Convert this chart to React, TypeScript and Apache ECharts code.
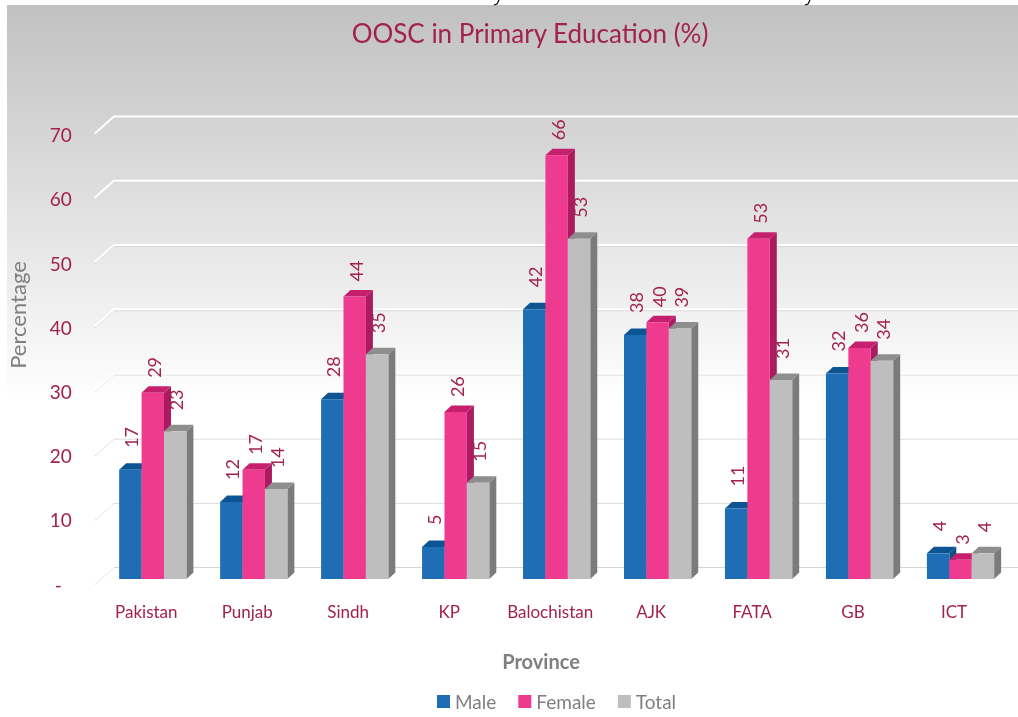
import React, { useEffect, useRef } from "react";
import * as echarts from "echarts";

const CATEGORIES = ["Pakistan", "Punjab", "Sindh", "KP", "Balochistan", "AJK", "FATA", "GB", "ICT"];
const MALE = [17, 12, 28, 5, 42, 38, 11, 32, 4];
const FEMALE = [29, 17, 44, 26, 66, 40, 53, 36, 3];
const TOTAL = [23, 14, 35, 15, 53, 39, 31, 34, 4];
const Y_TICKS = [0, 10, 20, 30, 40, 50, 60, 70];
const SERIES_NAMES = ["Male", "Female", "Total"];

const CRIMSON = "#a3214f";
const GRAY_TEXT = "#7f7f7f";
const FONT = "Lato, 'Open Sans', sans-serif";

const FACE = [
  { front: "#1f6db4", top: "#0c5592", side: "#0f4f86" },
  { front: "#ee3a8f", top: "#c51f6e", side: "#ab1b5f" },
  { front: "#bebebe", top: "#8e8e8e", side: "#7b7b7b" },
];
const LABEL_GAP = [22, 15, 21];

export default function App() {
  const ref = useRef<HTMLDivElement>(null);

  useEffect(() => {
    if (!ref.current) return;
    const chart = echarts.init(ref.current, null, { renderer: "svg" });

    const makeBarSeries = (s: number, values: number[]) => ({
      type: "custom",
      name: SERIES_NAMES[s],
      z: 3 + s,
      itemStyle: { color: FACE[s].front },
      data: values.map((v, i) => [i, v]),
      renderItem: (params: any, api: any) => {
        const idx = api.value(0);
        const v = api.value(1);
        const p = api.coord([idx, v]);
        const p0 = api.coord([idx, 0]);
        const band = api.size([1, 0])[0];
        const bw = band * 0.222;
        const dx = 7;
        const dy = 6.5;
        const x = p[0] + 6.5 - 1.5 * bw + s * bw;
        const y = p[1];
        const y0 = p0[1];
        return {
          type: "group",
          children: [
            {
              type: "polygon",
              shape: { points: [[x + bw, y], [x + bw + dx, y - dy], [x + bw + dx, y0 - dy], [x + bw, y0]] },
              style: { fill: FACE[s].side },
            },
            {
              type: "polygon",
              shape: { points: [[x, y], [x + dx, y - dy], [x + bw + dx, y - dy], [x + bw, y]] },
              style: { fill: FACE[s].top },
            },
            {
              type: "rect",
              shape: { x, y, width: bw, height: y0 - y },
              style: { fill: FACE[s].front },
            },
            {
              type: "text",
              x: x + bw / 2 + 1,
              y: y - LABEL_GAP[s],
              rotation: Math.PI / 2,
              style: {
                text: String(v),
                align: "left",
                verticalAlign: "middle",
                fill: CRIMSON,
                fontSize: 18,
                fontFamily: FONT,
              },
            },
          ],
        };
      },
    });

    const gridSeries = {
      type: "custom",
      name: "grid",
      z: 1,
      silent: true,
      data: Y_TICKS.map((v) => [0, v]),
      renderItem: (params: any, api: any) => {
        const v = api.value(1);
        const y = api.coord([0, v])[1];
        const cs = params.coordSys;
        const pts = [
          [cs.x - 1, y + 4],
          [cs.x + 18, y - 13],
          [1018, y - 13],
        ];
        const ptsShadow = pts.map((q) => [q[0], q[1] + 1.5]);
        return {
          type: "group",
          children: [
            { type: "polyline", shape: { points: ptsShadow }, style: { stroke: "#d6d6d6", lineWidth: 1, fill: "none" } },
            { type: "polyline", shape: { points: pts }, style: { stroke: "#ffffff", lineWidth: 2, fill: "none" } },
          ],
        };
      },
    };

    chart.setOption({
      animation: false,
      textStyle: { fontFamily: FONT },
      graphic: [
        {
          type: "rect",
          z: -10,
          shape: { x: 7, y: 5, width: 1011, height: 712 },
          style: {
            fill: new echarts.graphic.LinearGradient(0, 0, 0, 1, [
              { offset: 0, color: "#c1c1c1" },
              { offset: 0.56, color: "#ffffff" },
              { offset: 1, color: "#ffffff" },
            ]),
          },
        },
        {
          type: "polyline",
          shape: { points: [[499, 0], [497, 4], [494, 5]] },
          style: { stroke: "#000", lineWidth: 1.2, fill: "none" },
        },
        {
          type: "polyline",
          shape: { points: [[810, 0], [808, 4], [805, 5]] },
          style: { stroke: "#000", lineWidth: 1.2, fill: "none" },
        },
        {
          type: "text",
          x: 530,
          y: 33,
          style: { text: "OOSC in Primary Education (%)", align: "center", verticalAlign: "middle", fontSize: 26, fontFamily: FONT, fill: CRIMSON },
        },
        {
          type: "text",
          x: 17,
          y: 315,
          rotation: Math.PI / 2,
          style: { text: "Percentage", align: "center", verticalAlign: "middle", fontSize: 22, fontFamily: FONT, fill: GRAY_TEXT },
        },
        {
          type: "text",
          x: 541,
          y: 661,
          style: { text: "Province", align: "center", verticalAlign: "middle", fontSize: 20, fontWeight: "bold", fontFamily: FONT, fill: GRAY_TEXT },
        },
      ],
      legend: {
        bottom: 1,
        left: 432,
        icon: "rect",
        itemWidth: 13,
        itemHeight: 13,
        itemGap: 22,
        data: SERIES_NAMES,
        textStyle: { color: GRAY_TEXT, fontSize: 19, fontFamily: FONT },
      },
      grid: { left: 95.8, right: 13.5, top: 129.6, bottom: 138 },
      xAxis: {
        type: "category",
        data: CATEGORIES,
        axisLine: { show: false },
        axisTick: { show: false },
        splitLine: { show: false },
        axisLabel: { color: CRIMSON, fontSize: 17, fontFamily: FONT, margin: 24, interval: 0 },
      },
      yAxis: {
        type: "value",
        min: 0,
        max: 70,
        interval: 10,
        axisLine: { show: false },
        axisTick: { show: false },
        splitLine: { show: false },
        axisLabel: {
          color: CRIMSON,
          fontSize: 19,
          fontFamily: FONT,
          margin: 24,
          padding: [10, 0, 0, 0],
          formatter: (v: number) => (v === 0 ? "{d|-}" : String(v)),
          rich: { d: { color: CRIMSON, fontSize: 19, fontFamily: FONT, padding: [0, 10, 0, 0] } },
        },
      },
      series: [gridSeries, makeBarSeries(0, MALE), makeBarSeries(1, FEMALE), makeBarSeries(2, TOTAL)],
    });

    return () => chart.dispose();
  }, []);

  return <div ref={ref} style={{ position: "fixed", left: 0, top: 0, width: 1018, height: 717 }} />;
}
